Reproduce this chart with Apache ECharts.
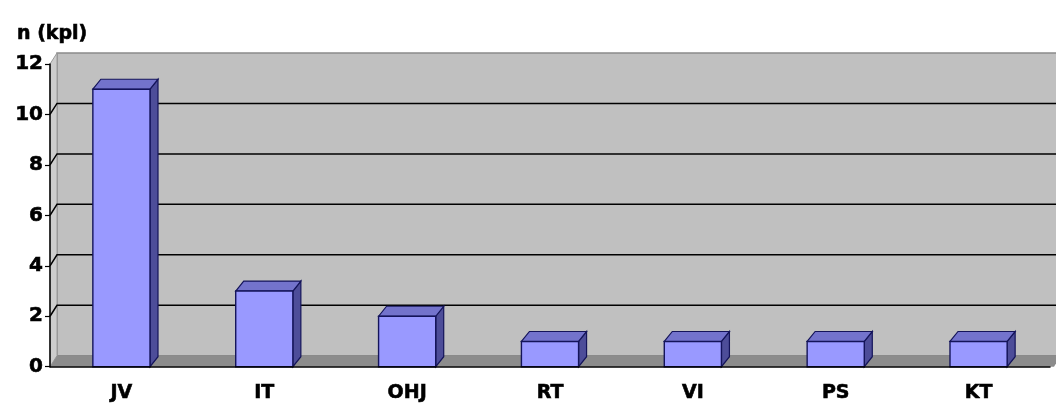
<!DOCTYPE html>
<html>
<head>
<meta charset="utf-8">
<script src="https://cdn.jsdelivr.net/npm/echarts@6/dist/echarts.min.js"></script>
<style>
  html, body { margin: 0; padding: 0; background: #ffffff; }
  #chart { width: 1056px; height: 403px; }
</style>
</head>
<body>
<div id="chart"></div>
<script>
// Chart data
const categories = ['JV', 'IT', 'OHJ', 'RT', 'VI', 'PS', 'KT'];
const counts = [11, 3, 2, 1, 1, 1, 1];
const yTickValues = [2, 4, 6, 8, 10];
const yMin = 0, yMax = 12, yStep = 2;
const yTitle = 'n (kpl)';

// 3D look: offset of the back wall and of the bar tops
const WALL_DX = 7, WALL_DY = -11;
const BAR_DX = 8, BAR_DY = -10;
const FONT = '"DejaVu Sans", Arial, sans-serif';
const TEXT = { fontFamily: FONT, fontWeight: 'bold', color: '#000000', textBorderColor: '#000000', textBorderWidth: 0.6 };

const chart = echarts.init(document.getElementById('chart'), null, { renderer: 'canvas' });

// Back wall, left side wall and floor of the plot box
function renderWalls(params, api) {
  const cs = params.coordSys;
  const left = cs.x, right = cs.x + cs.width;
  const top = api.coord([0, yMax])[1];
  const bottom = api.coord([0, yMin])[1];
  return {
    type: 'group',
    children: [
      { type: 'rect', shape: { x: left + WALL_DX, y: top + WALL_DY, width: right - left + 4, height: bottom - top },
        style: { fill: '#c0c0c0', stroke: '#8a8a8a', lineWidth: 1.5 } },
      { type: 'polygon', shape: { points: [[left, top], [left + WALL_DX, top + WALL_DY], [left + WALL_DX, bottom + WALL_DY], [left, bottom]] },
        style: { fill: '#cdcdcd', stroke: '#9a9a9a', lineWidth: 1 } },
      { type: 'polygon', shape: { points: [[left, bottom], [left + WALL_DX, bottom + WALL_DY], [right + WALL_DX + 4, bottom + WALL_DY], [right + 4, bottom]] },
        style: { fill: '#8c8c8c' } }
    ]
  };
}

// Gridlines on the back wall with their connectors over the side wall
function renderGrid(params, api) {
  const cs = params.coordSys;
  const left = cs.x, right = cs.x + cs.width;
  const y = api.coord([0, api.value(0)])[1];
  return {
    type: 'polyline',
    shape: { points: [[left, y], [left + WALL_DX, y + WALL_DY], [right + WALL_DX + 4, y + WALL_DY]] },
    style: { stroke: '#000000', lineWidth: 1.5, fill: null }
  };
}

// 3D columns: front face, top and right side
function renderBar(params, api) {
  const idx = api.value(0);
  const base = api.coord([idx, 0]);
  const top = api.coord([idx, api.value(1)]);
  const w = api.size([1, 0])[0] * 0.4;
  const x0 = base[0] - w / 2, x1 = base[0] + w / 2;
  const yT = top[1], yB = base[1];
  const stroke = '#14145a';
  return {
    type: 'group',
    children: [
      { type: 'polygon', shape: { points: [[x1, yT], [x1 + BAR_DX, yT + BAR_DY], [x1 + BAR_DX, yB + BAR_DY], [x1, yB]] },
        style: { fill: '#4d4d99', stroke: stroke, lineWidth: 1.2 } },
      { type: 'polygon', shape: { points: [[x0, yT], [x0 + BAR_DX, yT + BAR_DY], [x1 + BAR_DX, yT + BAR_DY], [x1, yT]] },
        style: { fill: '#7373cc', stroke: stroke, lineWidth: 1.2 } },
      { type: 'rect', shape: { x: x0, y: yT, width: w, height: yB - yT },
        style: { fill: '#9999ff', stroke: stroke, lineWidth: 1.4 } }
    ]
  };
}

chart.setOption({
  animation: false,
  backgroundColor: '#ffffff',
  title: {
    text: yTitle,
    left: 12,
    top: 20,
    textStyle: Object.assign({ fontSize: 19 }, TEXT)
  },
  grid: { left: 50, right: 6, top: 64, bottom: 36 },
  xAxis: {
    type: 'category',
    data: categories,
    axisLine: { lineStyle: { color: '#000000', width: 1.5 } },
    axisTick: { length: 6, lineStyle: { color: '#000000', width: 1.2 } },
    axisLabel: Object.assign({ margin: 17, fontSize: 19 }, TEXT),
    splitLine: { show: false },
    z: 10
  },
  yAxis: {
    type: 'value',
    min: yMin,
    max: yMax,
    interval: yStep,
    axisLine: { show: true, lineStyle: { color: '#000000', width: 1.5 } },
    axisTick: { show: true, length: 5, lineStyle: { color: '#000000', width: 1.2 } },
    axisLabel: Object.assign({ margin: 7, fontSize: 20 }, TEXT),
    splitLine: { show: false },
    z: 10
  },
  series: [
    { type: 'custom', renderItem: renderWalls, data: [[0, 0]], clip: false, silent: true, z: 1 },
    { type: 'custom', renderItem: renderGrid, data: yTickValues.map(v => [v]), clip: false, silent: true, z: 2 },
    { type: 'custom', renderItem: renderBar, data: counts.map((v, i) => [i, v]), clip: false, z: 3 }
  ]
});
</script>
</body>
</html>
